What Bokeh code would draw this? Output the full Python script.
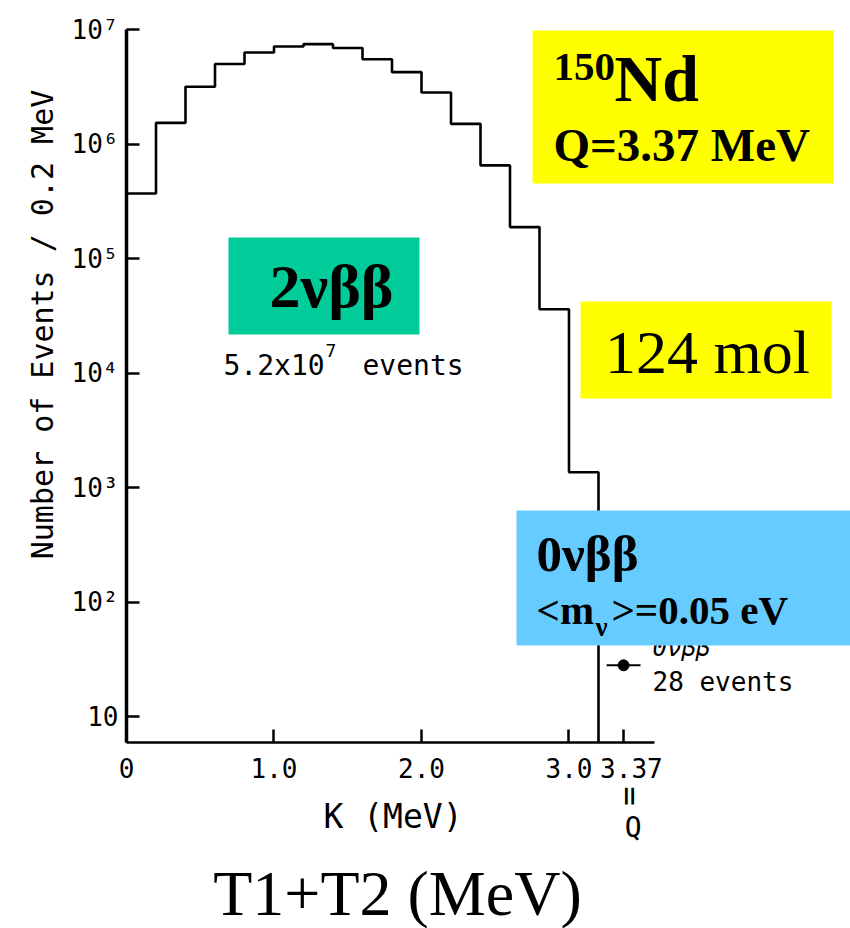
import math

from bokeh.core.properties import value
from bokeh.embed import file_html
from bokeh.models import FixedTicker, Range1d
from bokeh.plotting import figure
from bokeh.resources import INLINE

# Summed kinetic energy spectrum of the two electrons, 150Nd, 0.2 MeV bins
bin_edges = [0.0, 0.2, 0.4, 0.6, 0.8, 1.0, 1.2, 1.4, 1.6, 1.8,
             2.0, 2.2, 2.4, 2.6, 2.8, 3.0, 3.2]
bin_counts = [3.7e5, 1.53e6, 3.16e6, 5.0e6, 6.3e6, 7.1e6, 7.45e6, 6.9e6,
              5.5e6, 4.24e6, 2.82e6, 1.5e6, 6.5e5, 1.88e5, 3.6e4, 1.36e3]

# neutrinoless peak at the Q value
q_value = 3.37
peak_events = 28
peak_halfwidth = 0.115

x_ticks = [0, 1.0, 2.0, 3.0, 3.37]
x_tick_labels = ["0", "1.0", "2.0", "3.0", "\u00a03.37"]
y_ticks = [1e1, 1e2, 1e3, 1e4, 1e5, 1e6, 1e7]
y_tick_labels = ["10", "10²", "10³", "10⁴", "10⁵", "10⁶", "10⁷"]

MONO = "DejaVu Sans Mono"
SERIF = "Liberation Serif"

# axis extents of the spectrum itself
y_floor, y_top = 10 ** 0.773, 1e7
x_axis_end = 3.58

# the plotting area spans the whole page; axes sit at fixed data positions
p = figure(width=850, height=928,
           x_range=Range1d(-0.8542, 4.9085),
           y_range=Range1d(10 ** -0.8515, 10 ** 7.2533),
           y_axis_type="log", output_backend="svg", toolbar_location=None,
           title=None, min_border=0)
p.background_fill_color = "white"
p.border_fill_color = "white"
p.outline_line_color = None
p.xgrid.visible = False
p.ygrid.visible = False

for ax in (p.xaxis, p.yaxis):
    ax.axis_line_color = "black"
    ax.major_tick_line_width = 2.5
    ax.major_tick_line_color = "black"
    ax.major_tick_in = 13
    ax.major_tick_out = 0
    ax.minor_tick_line_color = None
    ax.major_label_text_font = MONO
    ax.major_label_text_color = "black"
    ax.major_label_text_font_size = "26px"

p.xaxis.axis_line_width = 2.5
p.yaxis.axis_line_width = 3.5

p.xaxis.fixed_location = y_floor
p.xaxis.bounds = (0, x_axis_end)
p.xaxis.ticker = FixedTicker(ticks=x_ticks)
p.xaxis.major_label_overrides = dict(zip(x_ticks, x_tick_labels))
p.xaxis.major_label_standoff = 12

p.yaxis.fixed_location = 0
p.yaxis.bounds = (y_floor, y_top)
p.yaxis.ticker = FixedTicker(ticks=y_ticks)
p.yaxis.major_label_overrides = dict(zip(y_ticks, y_tick_labels))
p.yaxis.major_label_standoff = 8

# 2nbb histogram outline, dropping to the axis at the last edge
p.step(x=bin_edges, y=bin_counts + [y_floor], mode="after",
       line_color="black", line_width=2.6)

# 0nbb point with its energy spread
p.segment(x0=[q_value - peak_halfwidth], x1=[q_value + peak_halfwidth],
          y0=[peak_events], y1=[peak_events], line_color="black", line_width=2)
p.scatter(x=[q_value], y=[peak_events], size=11, color="black")


def note(x, y, text, size, font=MONO, style="normal", align="left", angle=0.0):
    p.text(x=[x], y=[y], text=[text], text_font=value(font),
           text_font_size=f"{size}px", text_font_style=style,
           text_baseline="alphabetic", text_align=align, angle=angle,
           text_color="black")


note(3.566, 39.96, "0νββ", 24, style="italic")
note(3.566, 20.06, "28 events", 26)

# event count of the 2nbb spectrum
note(0.6576, 1.172e4, "5.2x10", 28)
note(1.349, 1.563e4, "7", 18)
note(1.6, 1.172e4, "events", 28)

# coloured caption boxes
p.quad(left=[2.7525, 0.6915, 3.078, 2.644],
       right=[4.793, 1.9864, 4.780, 5.0],
       top=[9.80e6, 1.526e5, 4.21e4, 629.7],
       bottom=[4.52e5, 2.169e4, 5.99e3, 41.7],
       fill_color=["#FFFF00", "#00CC99", "#FFFF00", "#66CCFF"],
       line_color=None)

note(2.8949, 4.677e6, "150", 41, font=SERIF, style="bold")
note(3.3085, 3.763e6, "Nd", 66, font=SERIF, style="bold")
note(2.8949, 9.78e5, "Q=3.37 MeV", 47, font=SERIF, style="bold")
note(1.3898, 5.717e4, "2νββ", 62, font=SERIF, style="bold", align="center")
note(3.939, 1.538e4, "124 mol", 62, font=SERIF, align="center")
note(2.78, 262.6, "0νββ", 51, font=SERIF, style="bold")
note(2.78, 84.6, "<m", 41, font=SERIF, style="bold")
note(3.18, 59.9, "ν", 27, font=SERIF, style="bold")
note(3.288, 84.6, ">=0.05 eV", 41, font=SERIF, style="bold")

# axis titles and the Q marker under the 3.37 tick
note(-0.570, 10 ** 4.4236, "Number of Events / 0.2 MeV", 30,
     align="center", angle=math.pi / 2)
note(1.8068, 1.344, "K (MeV)", 33, align="center")
note(3.41, 10 ** 0.3057, "=", 32, align="center", angle=math.pi / 2)
note(3.435, 1.082, "Q", 28, align="center")
note(1.8373, 0.2828, "T1+T2 (MeV)", 64, font=SERIF, align="center")

open("out.html", "w").write(file_html(p, INLINE))
